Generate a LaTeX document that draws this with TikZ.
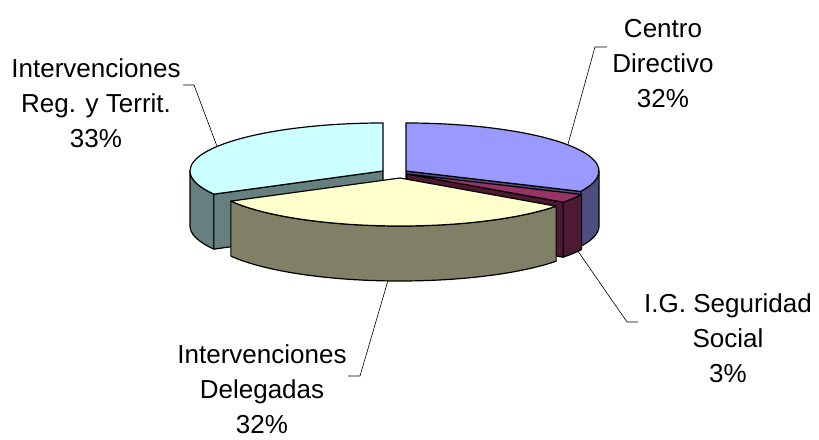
\documentclass[tikz,border=0pt]{standalone}
\usepackage{fontspec}
\setmainfont{Liberation Sans}
\usetikzlibrary{calc}
\definecolor{regtop}{HTML}{CCFFFF}
\definecolor{regside}{HTML}{668080}
\definecolor{cdtop}{HTML}{9999FF}
\definecolor{cdside}{HTML}{4D4D80}
\definecolor{igtop}{HTML}{993366}
\definecolor{igside}{HTML}{4D1A33}
\definecolor{deltop}{HTML}{FFFFCC}
\definecolor{delside}{HTML}{808066}

\begin{document}
\begin{tikzpicture}[x=1pt, y=1pt,
    face/.style={draw=black, line width=1.2pt, line join=round},
    label/.style={align=center, font=\fontsize{26}{35}\selectfont, inner sep=0pt},
    leader/.style={draw=black, line width=0.6pt}]
    \useasboundingbox (0,0) rectangle (819,439);

    % Centres of the slices
    \coordinate (cReg) at (383,268);
    \coordinate (cCD) at (406,268);
    \coordinate (cIG) at (407,265);
    \coordinate (cDel) at (400,261);

    % Intervenciones Reg. y Territ.
    \draw[face, fill=regside] ($(cReg)+(180:193 and 48)$) arc[start angle=180, end angle=208.8, x radius=193, y radius=48]
        -- ++(0,-55) arc[start angle=208.8, end angle=180, x radius=193, y radius=48] -- cycle;
    \draw[face, fill=regside] (cReg) -- ($(cReg)+(208.8:193 and 48)$) -- ++(0,-55) -- ($(cReg)+(0,-55)$) -- cycle;
    \draw[face, fill=regtop] (cReg) -- ($(cReg)+(90:193 and 48)$) arc[start angle=90, end angle=208.8, x radius=193, y radius=48] -- cycle;

    % Centro Directivo
    \draw[face, fill=cdside] ($(cCD)+(-25.2:193 and 48)$) arc[start angle=-25.2, end angle=0, x radius=193, y radius=48]
        -- ++(0,-55) arc[start angle=0, end angle=-25.2, x radius=193, y radius=48] -- cycle;
    \draw[face, fill=cdside] (cCD) -- ($(cCD)+(-25.2:193 and 48)$) -- ++(0,-55) -- ($(cCD)+(0,-55)$) -- cycle;
    \draw[face, fill=cdtop] (cCD) -- ($(cCD)+(-25.2:193 and 48)$) arc[start angle=-25.2, end angle=90, x radius=193, y radius=48] -- cycle;

    % I.G. Seguridad Social
    \draw[face, fill=igside] ($(cIG)+(-36:193 and 48)$) arc[start angle=-36, end angle=-25.2, x radius=193, y radius=48]
        -- ++(0,-55) arc[start angle=-25.2, end angle=-36, x radius=193, y radius=48] -- cycle;
    \draw[face, fill=igside] (cIG) -- ($(cIG)+(-36:193 and 48)$) -- ++(0,-55) -- ($(cIG)+(0,-55)$) -- cycle;
    \draw[face, fill=igtop] (cIG) -- ($(cIG)+(-36:193 and 48)$) arc[start angle=-36, end angle=-25.2, x radius=193, y radius=48] -- cycle;

    % Intervenciones Delegadas
    \draw[face, fill=delside] ($(cDel)+(-151.2:193 and 48)$) arc[start angle=-151.2, end angle=-36, x radius=193, y radius=48]
        -- ++(0,-55) arc[start angle=-36, end angle=-151.2, x radius=193, y radius=48] -- cycle;
    \draw[face, fill=deltop] (cDel) -- ($(cDel)+(-151.2:193 and 48)$) arc[start angle=-151.2, end angle=-36, x radius=193, y radius=48] -- cycle;

    % Labels
    \node[label] (lReg) at (96,336) {Intervenciones\\Reg. y Territ.\\33\%};
    \node[label] (lCD) at (663,375) {Centro\\Directivo\\32\%};
    \node[label] (lIG) at (728,101) {I.G. Seguridad\\Social\\3\%};
    \node[label] (lDel) at (262,50) {Intervenciones\\Delegadas\\32\%};

    % Leader lines
    \coordinate (regEnd) at (183,354);
    \coordinate (regRim) at ($(cReg)+(149.3:193 and 48)$);
    \coordinate (cdEnd) at (607,392);
    \coordinate (cdRim) at ($(cCD)+(33:193 and 48)$);
    \coordinate (igEnd) at (638,117);
    \coordinate (igRim) at ($(cIG)+(-27.6:193 and 48)+(0,-55)$);
    \coordinate (delEnd) at (348,63);
    \coordinate (delRim) at ($(cDel)+(-93.6:193 and 48)+(0,-55)$);
    \draw[leader] (regEnd) -- ++(11,0) -- (regRim);
    \draw[leader] (cdEnd) -- ++(-12,0) -- (cdRim);
    \draw[leader] (igEnd) -- ++(-11,0) -- (igRim);
    \draw[leader] (delEnd) -- ++(12,0) -- (delRim);
\end{tikzpicture}
\end{document}
